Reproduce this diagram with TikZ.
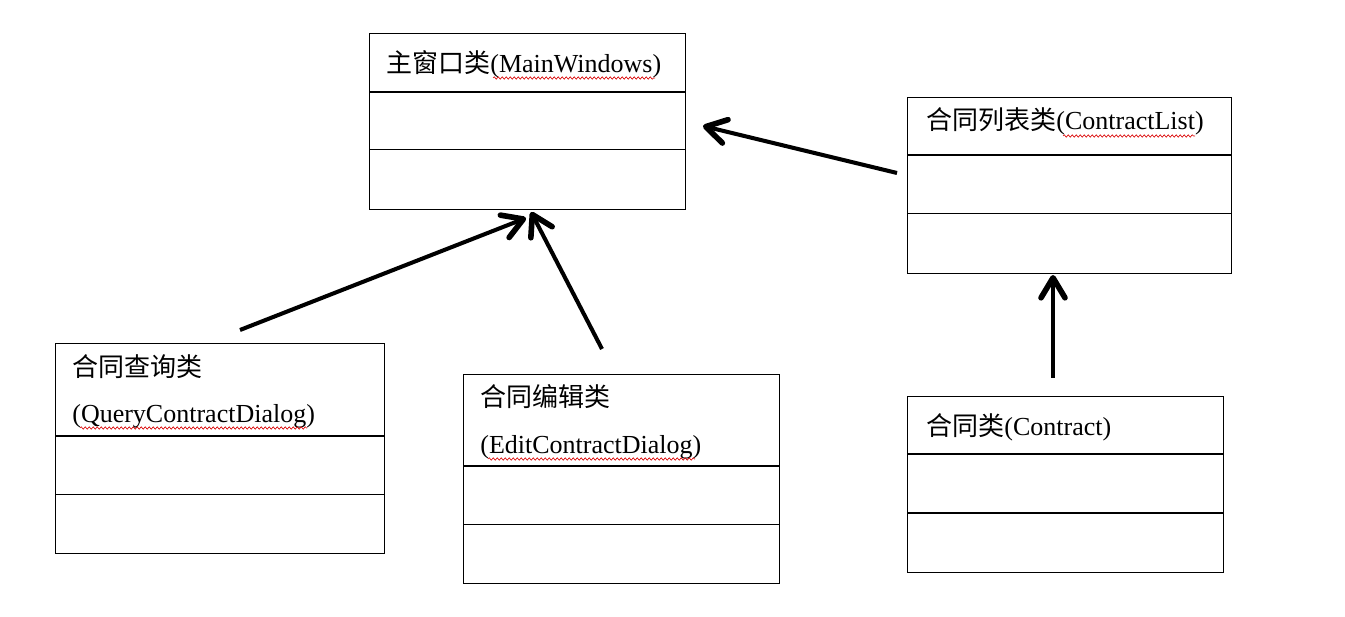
\documentclass[tikz,border=0pt]{standalone}
\usepackage{fontspec}
\setmainfont{Liberation Serif}
\newfontfamily\cjk{Noto Sans CJK SC}
\usetikzlibrary{arrows.meta,decorations.pathmorphing}

\begin{document}
\begin{tikzpicture}[x=0.02cm,y=-0.02cm]
	\tikzstyle{every node}+=[inner sep=0pt, font=\fontsize{14.8pt}{18pt}\selectfont]
	\tikzstyle{classbox}=[draw=black, line width=0.6pt, anchor=north west]
	\tikzstyle{divider}=[black, line width=0.6pt]
	\tikzstyle{assoc}=[-{Straight Barb[length=4mm,width=4.8mm,line width=3.2pt,round]}, line width=2.3pt]
	\tikzstyle{squiggle}=[red!85!black, line width=0.35pt, decorate, decoration={snake, segment length=0.08cm, amplitude=0.025cm}]
	\useasboundingbox (0,0) rectangle (1345,617);
	% class boxes
	\node [classbox, minimum width=6.32cm, minimum height=3.52cm] (main) at (369,33) {};
	\draw [divider] ([yshift=-1.18cm]main.north west) -- ([yshift=-1.18cm]main.north east);
	\draw [divider] ([yshift=-2.34cm]main.north west) -- ([yshift=-2.34cm]main.north east);
	\node [classbox, minimum width=6.48cm, minimum height=3.52cm] (list) at (907,97) {};
	\draw [divider] ([yshift=-1.16cm]list.north west) -- ([yshift=-1.16cm]list.north east);
	\draw [divider] ([yshift=-2.34cm]list.north west) -- ([yshift=-2.34cm]list.north east);
	\node [classbox, minimum width=6.58cm, minimum height=4.2cm] (query) at (55,343) {};
	\draw [divider] ([yshift=-1.86cm]query.north west) -- ([yshift=-1.86cm]query.north east);
	\draw [divider] ([yshift=-3.04cm]query.north west) -- ([yshift=-3.04cm]query.north east);
	\node [classbox, minimum width=6.32cm, minimum height=4.18cm] (edit) at (463,374) {};
	\draw [divider] ([yshift=-1.84cm]edit.north west) -- ([yshift=-1.84cm]edit.north east);
	\draw [divider] ([yshift=-3.02cm]edit.north west) -- ([yshift=-3.02cm]edit.north east);
	\node [classbox, minimum width=6.32cm, minimum height=3.52cm] (contract) at (907,396) {};
	\draw [divider] ([yshift=-1.16cm]contract.north west) -- ([yshift=-1.16cm]contract.north east);
	\draw [divider] ([yshift=-2.34cm]contract.north west) -- ([yshift=-2.34cm]contract.north east);
	% class names
	\node [anchor=base west] (mainname) at (386,73) {{\cjk 主窗口类}(MainWindows)};
	\node [anchor=base west] (listname) at (926,130) {{\cjk 合同列表类}(ContractList)};
	\node [anchor=base west] (queryname) at (72,377) {\cjk 合同查询类};
	\node [anchor=base west] (queryname2) at (72,423) {(QueryContractDialog)};
	\node [anchor=base west] (editname) at (480,407) {\cjk 合同编辑类};
	\node [anchor=base west] (editname2) at (480,454) {(EditContractDialog)};
	\node [anchor=base west] (contractname) at (926,436) {{\cjk 合同类}(Contract)};
	% spell check marks
	\draw [squiggle] (493,78) -- (655,78);
	\draw [squiggle] (1063,136) -- (1195,136);
	\draw [squiggle] (80,428) -- (307,428);
	\draw [squiggle] (488,459) -- (695,459);
	% associations
	\coordinate (a1s) at (897,173);
	\coordinate (a1e) at (703,126);
	\coordinate (a2s) at (240,330);
	\coordinate (a2e) at (526,218);
	\coordinate (a3s) at (602,349);
	\coordinate (a3e) at (531,212);
	\coordinate (a4s) at (1053,378);
	\coordinate (a4e) at (1053,275);
	\draw [assoc] (a1s) -- (a1e);
	\draw [assoc] (a2s) -- (a2e);
	\draw [assoc] (a3s) -- (a3e);
	\draw [assoc] (a4s) -- (a4e);
\end{tikzpicture}
\end{document}
